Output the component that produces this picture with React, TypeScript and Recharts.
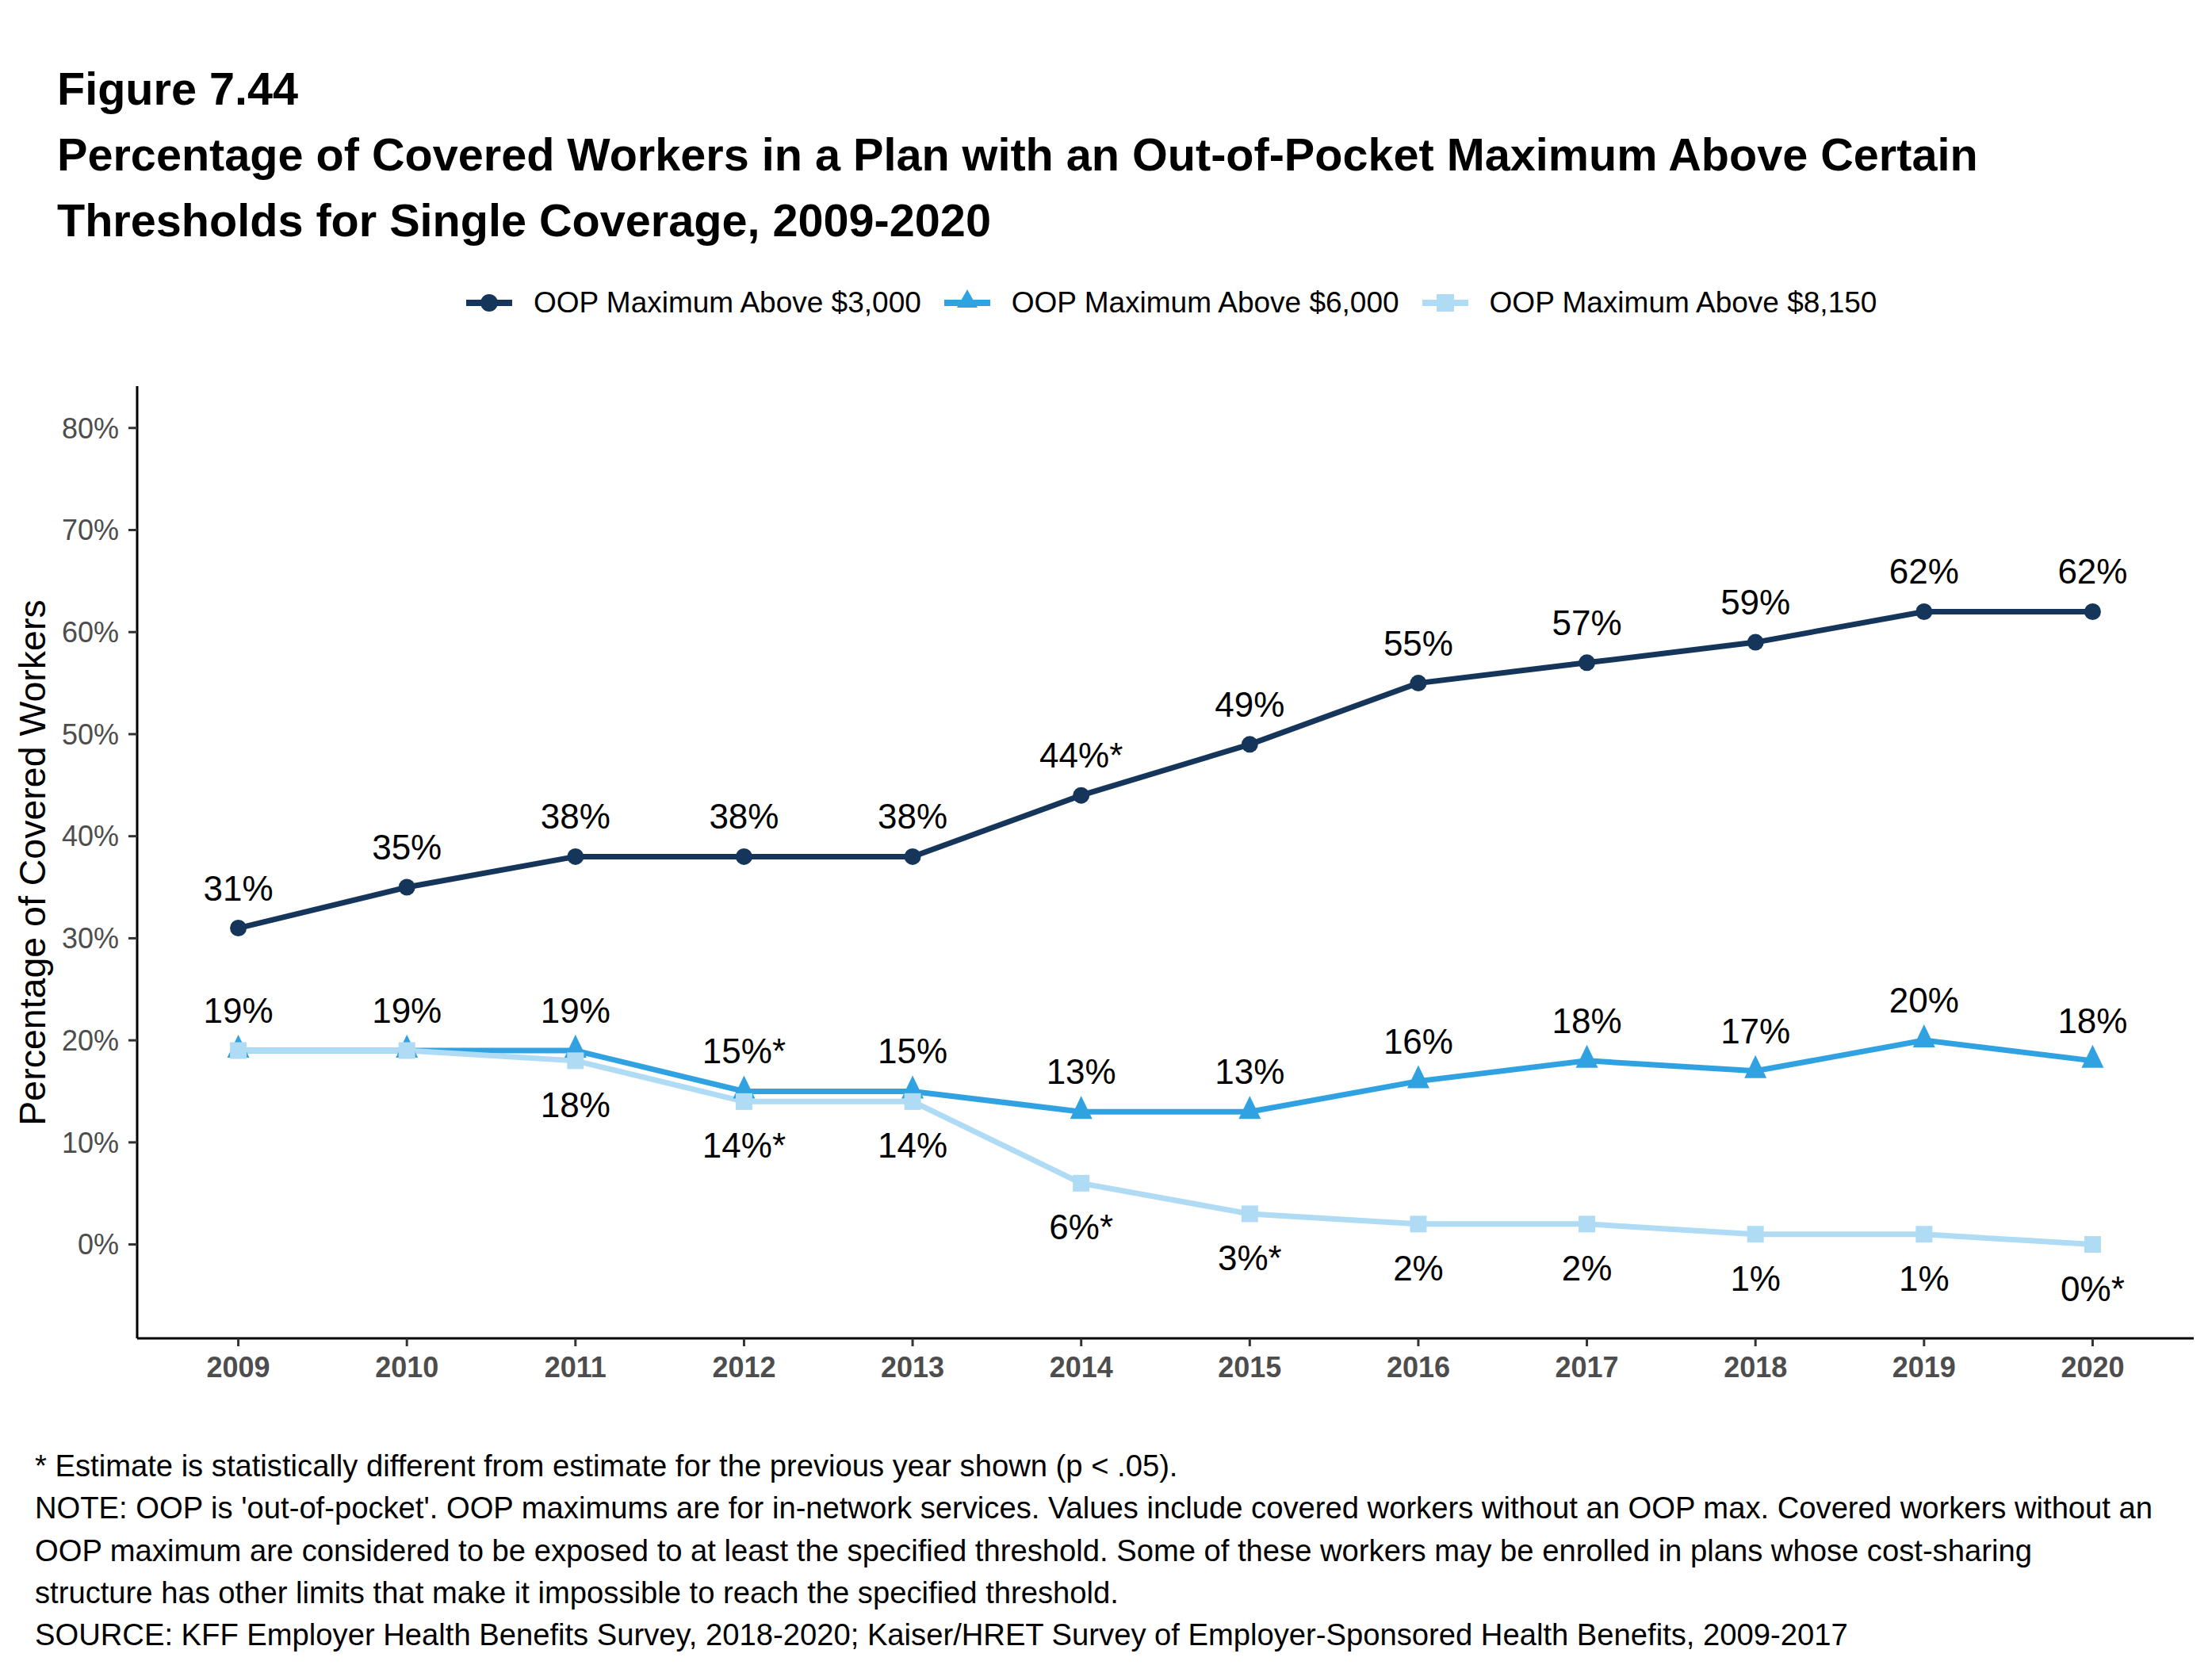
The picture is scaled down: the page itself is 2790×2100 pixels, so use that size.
import React from "react";
import { LineChart, Line, XAxis, YAxis, LabelList } from "recharts";

const years = [2009, 2010, 2011, 2012, 2013, 2014, 2015, 2016, 2017, 2018, 2019, 2020];
const above3000 = [31, 35, 38, 38, 38, 44, 49, 55, 57, 59, 62, 62];
const above6000 = [19, 19, 19, 15, 15, 13, 13, 16, 18, 17, 20, 18];
const above8150 = [19, 19, 18, 14, 14, 6, 3, 2, 2, 1, 1, 0];
const labels3000 = ["31%", "35%", "38%", "38%", "38%", "44%*", "49%", "55%", "57%", "59%", "62%", "62%"];
const labels6000 = ["19%", "19%", "19%", "15%*", "15%", "13%", "13%", "16%", "18%", "17%", "20%", "18%"];
const labels8150 = ["", "", "18%", "14%*", "14%", "6%*", "3%*", "2%", "2%", "1%", "1%", "0%*"];
const yTicks = [0, 10, 20, 30, 40, 50, 60, 70, 80];
const seriesNames = ["OOP Maximum Above $3,000", "OOP Maximum Above $6,000", "OOP Maximum Above $8,150"];

const DARK = "#15365a";
const MID = "#30a2e2";
const LIGHT = "#afdcf4";
const FONT = "'Liberation Sans', Arial, sans-serif";

const data = years.map((year, i) => ({
  year,
  a: above3000[i],
  b: above6000[i],
  c: above8150[i],
  la: labels3000[i],
  lb: labels6000[i],
  lc: labels8150[i],
}));

const Circle = (p: any) => <circle key={`c${p.index}`} cx={p.cx} cy={p.cy} r={10.5} fill={DARK} />;
const Triangle = (p: any) => (
  <path key={`t${p.index}`} d={`M${p.cx},${p.cy - 20} L${p.cx + 14},${p.cy + 9} L${p.cx - 14},${p.cy + 9} Z`} fill={MID} />
);
const Square = (p: any) => (
  <rect key={`s${p.index}`} x={p.cx - 10.5} y={p.cy - 10.5} width={21} height={21} fill={LIGHT} />
);

// labels above (dy < 0) or below the point
const pointLabel = (dy: number) => (props: any) => {
  const vb = props.viewBox || {};
  const x = props.x ?? vb.x;
  const y = props.y ?? vb.y;
  if (!props.value || x == null || y == null) return null;
  return (
    <text x={x} y={y + dy} textAnchor="middle" fontSize={44} fontFamily={FONT} fill="#000">
      {props.value}
    </text>
  );
};

function LegendKey({ color, shape }: { color: string; shape: string }) {
  return (
    <svg width={58} height={40}>
      <line x1={0} x2={58} y1={20} y2={20} stroke={color} strokeWidth={8} />
      {shape === "circle" && <circle cx={29} cy={20} r={11} fill={color} />}
      {shape === "triangle" && <path d="M29,3 L42,26 L16,26 Z" fill={color} />}
      {shape === "square" && <rect x={18} y={9} width={22} height={22} fill={color} />}
    </svg>
  );
}

export default function App() {
  const legendItems = [
    { name: seriesNames[0], color: DARK, shape: "circle" },
    { name: seriesNames[1], color: MID, shape: "triangle" },
    { name: seriesNames[2], color: LIGHT, shape: "square" },
  ];

  return (
    <div style={{ position: "absolute", left: 0, top: 0, width: 2790, height: 2100, background: "#fff", fontFamily: FONT }}>
      {/* Title */}
      <div style={{ position: "absolute", left: 72, top: 71, fontSize: 57.6, lineHeight: "83px", fontWeight: "bold", color: "#000", whiteSpace: "nowrap" }}>
        <div>Figure 7.44</div>
        <div>Percentage of Covered Workers in a Plan with an Out-of-Pocket Maximum Above Certain</div>
        <div>Thresholds for Single Coverage, 2009-2020</div>
      </div>

      {/* Legend */}
      <div style={{ position: "absolute", left: 588, top: 362, height: 40, display: "flex", alignItems: "center", fontSize: 37, color: "#000", whiteSpace: "nowrap" }}>
        {legendItems.map((item, i) => (
          <div key={i} style={{ display: "flex", alignItems: "center", marginRight: 29 }}>
            <LegendKey color={item.color} shape={item.shape} />
            <span style={{ marginLeft: 27 }}>{item.name}</span>
          </div>
        ))}
      </div>

      {/* Y axis title */}
      <div style={{ position: "absolute", left: 41, top: 1088, transform: "translate(-50%, -50%) rotate(-90deg)", fontSize: 46.5, color: "#000", whiteSpace: "nowrap" }}>
        Percentage of Covered Workers
      </div>

      <div style={{ position: "absolute", left: 0, top: 0 }}>
        <LineChart width={2790} height={2100} data={data} margin={{ top: 487, right: 23, bottom: 352, left: 53 }}>
          <XAxis
            dataKey="year"
            type="number"
            domain={[2008.4, 2020.6]}
            ticks={years}
            allowDataOverflow
            height={60}
            axisLine={{ stroke: "#000", strokeWidth: 3 }}
            tickLine={{ stroke: "#333", strokeWidth: 3 }}
            tickSize={10}
            tickMargin={13}
            tick={{ fontSize: 36, fontWeight: "bold", fill: "#4d4d4d", fontFamily: FONT }}
          />
          <YAxis
            type="number"
            domain={[-9.2, 84.1]}
            ticks={yTicks}
            allowDataOverflow
            width={120}
            axisLine={{ stroke: "#000", strokeWidth: 3 }}
            tickLine={{ stroke: "#333", strokeWidth: 3 }}
            tickSize={11}
            tickMargin={12}
            tickFormatter={(v: number) => `${v}%`}
            tick={{ fontSize: 36, fill: "#4d4d4d", fontFamily: FONT }}
          />
          <Line dataKey="a" stroke={DARK} strokeWidth={7} dot={Circle} activeDot={false} isAnimationActive={false}>
            <LabelList dataKey="la" content={pointLabel(-35)} />
          </Line>
          <Line dataKey="b" stroke={MID} strokeWidth={7} dot={Triangle} activeDot={false} isAnimationActive={false}>
            <LabelList dataKey="lb" content={pointLabel(-35)} />
          </Line>
          <Line dataKey="c" stroke={LIGHT} strokeWidth={7} dot={Square} activeDot={false} isAnimationActive={false}>
            <LabelList dataKey="lc" content={pointLabel(71)} />
          </Line>
        </LineChart>
      </div>

      {/* Notes */}
      <div style={{ position: "absolute", left: 44, top: 1822, fontSize: 38.2, lineHeight: "53.3px", color: "#000", whiteSpace: "nowrap" }}>
        <div>* Estimate is statistically different from estimate for the previous year shown (p &lt; .05).</div>
        <div>NOTE: OOP is 'out-of-pocket'. OOP maximums are for in-network services. Values include covered workers without an OOP max. Covered workers without an</div>
        <div>OOP maximum are considered to be exposed to at least the specified threshold. Some of these workers may be enrolled in plans whose cost-sharing</div>
        <div>structure has other limits that make it impossible to reach the specified threshold.</div>
        <div>SOURCE: KFF Employer Health Benefits Survey, 2018-2020; Kaiser/HRET Survey of Employer-Sponsored Health Benefits, 2009-2017</div>
      </div>
    </div>
  );
}
